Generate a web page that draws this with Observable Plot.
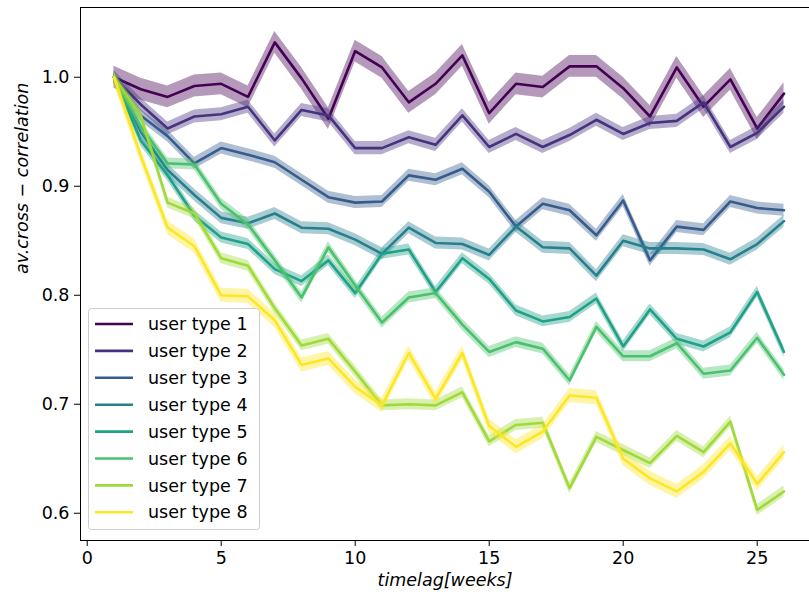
<!DOCTYPE html>
<html><head><meta charset="utf-8">
<script src="https://cdn.jsdelivr.net/npm/d3@7"></script>
<script src="https://cdn.jsdelivr.net/npm/@observablehq/plot@0.6"></script>
<style>body{margin:0;background:#fff;} svg{display:block;}</style>
</head><body><div id="chart"></div>
<script>
const weeks = [1,2,3,4,5,6,7,8,9,10,11,12,13,14,15,16,17,18,19,20,21,22,23,24,25,26];
const seriesNames = ["user type 1","user type 2","user type 3","user type 4","user type 5","user type 6","user type 7","user type 8"];
const colors = ["#440154","#46327e","#365c8d","#277f8e","#1fa187","#4ac16d","#a0da39","#fde725"];

const type1 = [1.000,0.989,0.982,0.992,0.994,0.982,1.032,0.999,0.962,1.024,1.009,0.977,0.994,1.020,0.967,0.994,0.991,1.010,1.010,0.990,0.964,1.009,0.973,0.998,0.953,0.985];
const type2 = [1.000,0.975,0.953,0.964,0.966,0.973,0.942,0.970,0.965,0.935,0.935,0.945,0.938,0.965,0.936,0.948,0.936,0.947,0.961,0.948,0.958,0.960,0.977,0.936,0.949,0.973];
const type3 = [1.000,0.965,0.946,0.921,0.935,0.929,0.922,0.906,0.890,0.885,0.886,0.910,0.906,0.916,0.895,0.863,0.884,0.878,0.855,0.887,0.832,0.863,0.860,0.886,0.880,0.878];
const type4 = [1.000,0.950,0.915,0.892,0.871,0.866,0.875,0.862,0.861,0.851,0.838,0.862,0.848,0.847,0.837,0.863,0.844,0.843,0.818,0.850,0.843,0.843,0.842,0.833,0.847,0.868];
const type5 = [1.000,0.942,0.910,0.873,0.853,0.847,0.824,0.813,0.832,0.802,0.838,0.842,0.803,0.834,0.815,0.786,0.776,0.780,0.797,0.753,0.787,0.760,0.753,0.766,0.803,0.748];
const type6 = [1.000,0.955,0.921,0.920,0.884,0.865,0.832,0.798,0.844,0.809,0.775,0.798,0.802,0.773,0.748,0.757,0.751,0.722,0.771,0.744,0.744,0.756,0.728,0.731,0.761,0.727];
const type7 = [1.000,0.965,0.885,0.875,0.834,0.827,0.788,0.754,0.760,0.730,0.699,0.700,0.699,0.711,0.666,0.681,0.683,0.623,0.670,0.658,0.646,0.671,0.656,0.684,0.603,0.620];
const type8 = [1.000,0.928,0.862,0.845,0.800,0.799,0.777,0.736,0.742,0.716,0.699,0.747,0.705,0.747,0.680,0.661,0.675,0.708,0.706,0.650,0.632,0.620,0.638,0.664,0.627,0.656];
const ciHalf = [0.010,0.006,0.0055,0.0055,0.005,0.005,0.005,0.0065];

const xTicks = [0,5,10,15,20,25];
const yTicks = [0.6,0.7,0.8,0.9,1.0];
const xDomain = [-0.25, 27.25];
const yDomain = [0.575, 1.064];
const xLabel = "timelag[weeks]";
const yLabel = "av.cross \u2212 correlation";

const values = [type1,type2,type3,type4,type5,type6,type7,type8];
const rows = [];
seriesNames.forEach((name,i) => values[i].forEach((v,j) => rows.push({series:name, week:weeks[j], value:v, lo:v-ciHalf[i], hi:v+ciHalf[i]})));

const marks = [];
seriesNames.forEach((name) => {
  const d = rows.filter(r => r.series === name);
  marks.push(Plot.areaY(d, {x:"week", y1:"lo", y2:"hi", fill:"series", fillOpacity:0.4}));
  marks.push(Plot.lineY(d, {x:"week", y:"value", stroke:"series", strokeWidth:2.6}));
});

const W = 809, H = 601;
const chart = Plot.plot({
  width: W, height: H,
  marginLeft: 80, marginRight: 0, marginTop: 7, marginBottom: 61,
  style: {fontFamily: "DejaVu Sans", fontSize: "17.5px", background: "white", color: "black", overflow: "visible"},
  x: {domain: xDomain, range: [80, 80 + 27.5*26.8]},
  y: {domain: yDomain, range: [540, 7]},
  color: {type: "ordinal", domain: seriesNames, range: colors},
  marks: [
    ...marks,
    Plot.ruleX([xDomain[0]], {stroke: "black", strokeWidth: 1}),
    Plot.ruleY(yDomain, {stroke: "black", strokeWidth: 1}),
    Plot.axisX({ticks: xTicks, tickSize: 6, tickPadding: 5, label: null, fontSize: 17.5}),
    Plot.axisY({ticks: yTicks, tickSize: 6, tickPadding: 5, label: null, tickFormat: d3.format(".1f"), fontSize: 17.5}),
    Plot.text([xLabel], {frameAnchor: "bottom", dy: 45, fontStyle: "italic", fontSize: 17.5, text: d => d}),
    Plot.text([yLabel], {frameAnchor: "left", dx: -58, rotate: -90, fontStyle: "italic", fontSize: 17.5, text: d => d})
  ]
});
document.getElementById("chart").appendChild(chart);

// legend inside the axes, lower-left
const svg = d3.select(chart);
const lg = svg.append("g").attr("font-family", "DejaVu Sans").attr("font-size", "17.5px").attr("text-anchor", "start");
lg.append("rect").attr("x", 88.5).attr("y", 308.5).attr("width", 171).attr("height", 221)
  .attr("rx", 3).attr("fill", "white").attr("fill-opacity", 0.8).attr("stroke", "#cccccc").attr("stroke-width", 1);
seriesNames.forEach((name, i) => {
  const cy = 324 + i*26.9;
  lg.append("line").attr("x1", 95).attr("x2", 133).attr("y1", cy).attr("y2", cy)
    .attr("stroke", colors[i]).attr("stroke-width", 2.6);
  lg.append("text").attr("x", 148).attr("y", cy).attr("dy", "0.35em").attr("text-anchor", "start").attr("fill", "black").text(name);
});
</script>
</body></html>
